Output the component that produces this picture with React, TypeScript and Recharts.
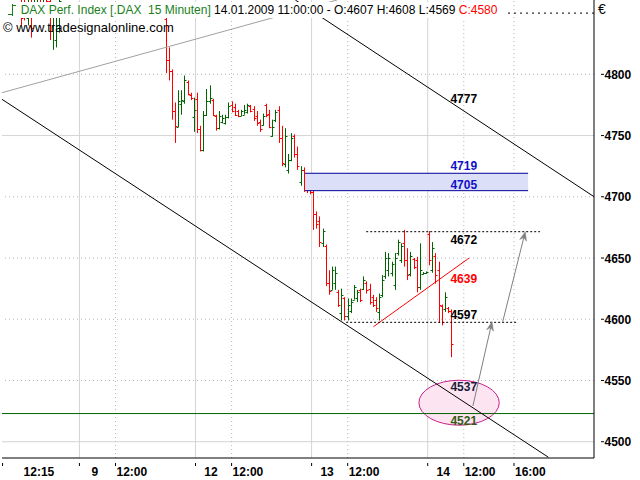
import React from 'react';
import {
  ComposedChart,
  Bar,
  XAxis,
  YAxis,
  ReferenceLine,
  ReferenceArea,
  ReferenceDot,
} from 'recharts';

// 15 minute bars, 37 slots per trading day on the time axis
const BARS_PER_DAY = 37;

// [open, high, low, close]
const jan08: number[][] = [
  [4866, 4870, 4840, 4846], [4858, 4866, 4844, 4850], [4846, 4868, 4840, 4862],
  [4862, 4870, 4830, 4838], [4852, 4872, 4850, 4866], [4866, 4878, 4856, 4870],
  [4870, 4880, 4858, 4862], [4862, 4874, 4853, 4868], [4868, 4876, 4855, 4860],
  [4860, 4866, 4828, 4835], [4835, 4858, 4820, 4852], [4828, 4856, 4822, 4850],
  [4840, 4866, 4834, 4860],
];
const jan09: number[][] = [
  [4845, 4850, 4801, 4812], [4812, 4822, 4795, 4803], [4803, 4804, 4763, 4770],
  [4770, 4777, 4744, 4758], [4757, 4787, 4757, 4778], [4776, 4787, 4767, 4779],
  [4778, 4799, 4776, 4795], [4794, 4795, 4783, 4784], [4783, 4785, 4779, 4781],
  [4765, 4781, 4753, 4771],
];
const jan12: number[][] = [
  [4780, 4785, 4752, 4755], [4755, 4758, 4737, 4738], [4738, 4770, 4737, 4767],
  [4767, 4788, 4766, 4778], [4778, 4791, 4776, 4781], [4779, 4780, 4766, 4767],
  [4766, 4767, 4754, 4756], [4756, 4770, 4755, 4766], [4761, 4767, 4760, 4764],
  [4760, 4767, 4759, 4765], [4765, 4777, 4764, 4774], [4775, 4778, 4769, 4770],
  [4773, 4776, 4766, 4767], [4770, 4771, 4765, 4766], [4766, 4771, 4766, 4770],
  [4767, 4775, 4767, 4771], [4769, 4776, 4768, 4775], [4774, 4775, 4769, 4770],
  [4772, 4774, 4762, 4764], [4766, 4770, 4758, 4760], [4761, 4763, 4753, 4755],
  [4759, 4768, 4758, 4766], [4775, 4776, 4765, 4767], [4768, 4771, 4756, 4757],
  [4750, 4763, 4749, 4757], [4763, 4771, 4761, 4769], [4771, 4774, 4744, 4748],
  [4748, 4758, 4725, 4728], [4727, 4756, 4724, 4750], [4722, 4735, 4719, 4730],
  [4730, 4752, 4729, 4748], [4750, 4751, 4732, 4735], [4735, 4741, 4722, 4725],
  [4712, 4725, 4709, 4722], [4722, 4724, 4704, 4708], [4708, 4712, 4703, 4706],
  [4706, 4710, 4702, 4704],
];
const jan13: number[][] = [
  [4704, 4705, 4673, 4686], [4686, 4688, 4674, 4678], [4680, 4684, 4659, 4663],
  [4662, 4674, 4659, 4672], [4660, 4661, 4627, 4630], [4630, 4640, 4620, 4623],
  [4624, 4643, 4624, 4640], [4630, 4643, 4624, 4638], [4622, 4624, 4610, 4612],
  [4605, 4625, 4599, 4620], [4617, 4618, 4599, 4603], [4603, 4617, 4599, 4612],
  [4607, 4617, 4605, 4614], [4616, 4628, 4616, 4626], [4617, 4624, 4614, 4622],
  [4624, 4625, 4614, 4616], [4625, 4635, 4624, 4632], [4630, 4631, 4621, 4624],
  [4625, 4629, 4612, 4614], [4618, 4620, 4610, 4612], [4616, 4618, 4606, 4609],
  [4606, 4621, 4599, 4618], [4620, 4636, 4618, 4632], [4635, 4655, 4633, 4650],
  [4640, 4654, 4635, 4650], [4638, 4647, 4635, 4645], [4628, 4654, 4624, 4650],
  [4654, 4665, 4652, 4663], [4648, 4662, 4646, 4660], [4662, 4673, 4643, 4648],
  [4648, 4658, 4632, 4636], [4637, 4655, 4635, 4652], [4649, 4650, 4641, 4643],
  [4648, 4651, 4622, 4626], [4626, 4662, 4624, 4640], [4637, 4638.5, 4636.5, 4638],
  [4637.5, 4639, 4637, 4638.5],
];
const jan14: number[][] = [
  [4670, 4672, 4644, 4648], [4640, 4663, 4638, 4658], [4652, 4654, 4629, 4636],
  [4640, 4647, 4597, 4612], [4611, 4612, 4595, 4598], [4608, 4622, 4606, 4618],
  [4609, 4610, 4605, 4607], [4607, 4608, 4569, 4580],
];

// day number on the axis, first bar slot inside that day
const sessions = [
  { day: 0, first: 18, bars: jan08 },
  { day: 1, first: 27, bars: jan09 },
  { day: 2, first: 0, bars: jan12 },
  { day: 3, first: 0, bars: jan13 },
  { day: 4, first: 0, bars: jan14 },
];

const xTickSlots = [12, 36.5, 48, 73.5, 85, 110.5, 122, 147.5, 159, 175];
const xTickTexts = ['12:15', '9', '12:00', '12', '12:00', '13', '12:00', '14', '12:00', '16:00'];
const daySlots = [36.5, 73.5, 110.5, 147.5];
const noonSlots = [48, 85, 122, 159, 175];
const yTicks = [4500, 4550, 4600, 4650, 4700, 4750, 4800];
const ySolid = [4500, 4750];
const yDotted = [4550, 4600, 4650, 4700, 4800];

// drawn levels: text, position (slot, price), colour
const levelTexts = ['4777', '4719', '4705', '4672', '4639', '4597', '4537', '4521'];
const levelPrices = [4780.6, 4725.9, 4710.4, 4665.5, 4632.9, 4603.5, 4544.7, 4517.0];
const levelColors = ['#000', '#1010c8', '#1010c8', '#000', '#ff0000', '#000', '#1c1c3c', '#355a14'];
const LEVEL_SLOT = 159;

const X_DOMAIN: [number, number] = [11.82, 200.5];
const Y_DOMAIN: [number, number] = [4486.7, 4860.7];

const RED = '#ff0000';
const GREEN = '#006400';
const FONT = '"Liberation Sans", Arial, sans-serif';

const bars = sessions.flatMap((s) =>
  s.bars.map((b, j) => ({
    slot: s.day * BARS_PER_DAY + s.first + j,
    open: b[0],
    high: b[1],
    low: b[2],
    close: b[3],
  }))
);

const OhlcShape = (props: any) => {
  const { x, y, width, height, payload } = props;
  if (x == null || y == null) return null;
  const top = Math.min(y, y + height);
  const bottom = Math.max(y, y + height);
  const cx = Math.round(x + width / 2) + 0.5;
  const span = payload.high - payload.low;
  const at = (v: number) => Math.round(span > 0 ? top + ((bottom - top) * (payload.high - v)) / span : top) + 0.5;
  const color = payload.close < payload.open ? RED : GREEN;
  return (
    <g stroke={color} strokeWidth={1}>
      <line x1={cx} x2={cx} y1={top} y2={bottom} />
      <line x1={cx - 2} x2={cx} y1={at(payload.open)} y2={at(payload.open)} />
      <line x1={cx} x2={cx + 2} y1={at(payload.close)} y2={at(payload.close)} />
    </g>
  );
};

const XTick = (props: any) => {
  const { x, y, index } = props;
  const text = xTickTexts[index] ?? '';
  const isDay = !text.includes(':');
  const tx = isDay ? x + 15.5 : index === 0 ? x + 21 : x + 1;
  return (
    <g>
      <line x1={x} x2={x} y1={y + 5} y2={y + 8} stroke="#000" />
      <text x={tx} y={y + 18} textAnchor={isDay ? 'middle' : 'start'} fontSize={12} fontWeight="bold" fontFamily={FONT} fill="#000">
        {text}
      </text>
    </g>
  );
};

const YTick = (props: any) => {
  const { x, y, payload } = props;
  return (
    <g>
      <line x1={x + 7} x2={x + 10} y1={y} y2={y} stroke="#000" />
      <text x={x + 10.5} y={y + 4.5} textAnchor="start" fontSize={12} fontWeight="bold" fontFamily={FONT} fill="#000">
        {payload.value}
      </text>
    </g>
  );
};

const Ellipse = (props: any) => {
  const { x, y, width, height } = props;
  return (
    <ellipse cx={x + width / 2} cy={y + height / 2} rx={Math.abs(width) / 2} ry={Math.abs(height) / 2} fill="#fce4f1" stroke="#c8208c" strokeWidth={1} />
  );
};

const ZoneBox = (props: any) => {
  const { x, y, width, height } = props;
  return (
    <g>
      <rect x={x} y={y} width={width} height={height} fill="#dcdff8" />
      <line x1={x} x2={x + width} y1={y} y2={y} stroke="#000099" />
      <line x1={x} x2={x + width} y1={y + height} y2={y + height} stroke="#000099" />
    </g>
  );
};

const Arrow = (props: any) => {
  const { x1, y1, x2, y2 } = props;
  const a = Math.atan2(y2 - y1, x2 - x1);
  const c = Math.cos(a);
  const s = Math.sin(a);
  const len = 9;
  const half = 3.5;
  const bx = x2 - len * c;
  const by = y2 - len * s;
  const nx = x2 - (len - 3) * c;
  const ny = y2 - (len - 3) * s;
  const pts = [
    [x2, y2],
    [bx - half * s, by + half * c],
    [nx, ny],
    [bx + half * s, by - half * c],
  ]
    .map((p) => p.join(','))
    .join(' ');
  return (
    <g>
      <line x1={x1} y1={y1} x2={nx} y2={ny} stroke="#808080" strokeWidth={1} />
      <polygon points={pts} fill="#808080" stroke="#808080" strokeWidth={0.5} />
    </g>
  );
};

const LevelText = (text: string, color: string) => (p: any) => (
  <text x={p.cx} y={p.cy + 4.5} textAnchor="middle" fontSize={12} fontWeight="bold" fontFamily={FONT} fill={color}>
    {text}
  </text>
);

export default function App() {
  return (
    <div style={{ position: 'absolute', left: 0, top: 0, width: 640, height: 480, background: '#fff', fontFamily: FONT }}>
      <ComposedChart width={640} height={480} data={bars} margin={{ top: 0, right: 0, bottom: 0, left: 2 }}>
        {ySolid.map((v) => (
          <ReferenceLine key={'hs' + v} y={v} stroke="#d4d4d4" zIndex={-100} />
        ))}
        {yDotted.map((v) => (
          <ReferenceLine key={'hd' + v} y={v} stroke="#b8b8b8" strokeDasharray="1 3" zIndex={-100} />
        ))}
        {daySlots.map((v) => (
          <ReferenceLine key={'vs' + v} x={v} stroke="#d4d4d4" zIndex={-100} />
        ))}
        {noonSlots.map((v) => (
          <ReferenceLine key={'vd' + v} x={v} stroke="#b8b8b8" strokeDasharray="1 3" zIndex={-100} />
        ))}
        <XAxis
          type="number"
          dataKey="slot"
          domain={X_DOMAIN}
          allowDataOverflow
          ticks={xTickSlots}
          interval={0}
          height={22}
          tickSize={0}
          tickMargin={0}
          tickLine={false}
          axisLine={{ stroke: '#000' }}
          tick={(p: any) => <XTick {...p} />}
        />
        <YAxis
          orientation="right"
          domain={Y_DOMAIN}
          allowDataOverflow
          ticks={yTicks}
          interval={0}
          width={46}
          tickSize={0}
          tickMargin={0}
          tickLine={false}
          axisLine={{ stroke: '#000' }}
          tick={(p: any) => <YTick {...p} />}
        />
        <YAxis yAxisId="frame" orientation="left" width={0} domain={Y_DOMAIN} allowDataOverflow tick={false} tickLine={false} axisLine={{ stroke: '#000' }} />

        <Bar
          dataKey={(d: any) => [d.low, d.high]}
          barSize={3}
          isAnimationActive={false}
          shape={(p: any) => <OhlcShape {...p} />}
        />

        <ReferenceArea x1={144.7} x2={170.3} y1={4513.5} y2={4550.2} ifOverflow="hidden" zIndex={350} shape={(p: any) => <Ellipse {...p} />} />
        <ReferenceArea x1={108.4} x2={179.5} y1={4705} y2={4719.2} ifOverflow="hidden" zIndex={350} shape={(p: any) => <ZoneBox {...p} />} />

        <ReferenceLine y={4850} stroke="#000" strokeDasharray="2 4" ifOverflow="hidden" zIndex={400} />
        <ReferenceLine y={4523} stroke="#006400" ifOverflow="hidden" zIndex={400} />
        <ReferenceLine segment={[{ x: 11.82, y: 4785 }, { x: 118.6, y: 4860.7 }]} stroke="#a0a0a0" ifOverflow="hidden" zIndex={400} />
        <ReferenceLine segment={[{ x: 11.82, y: 4779.6 }, { x: 185.97, y: 4487.3 }]} stroke="#000" ifOverflow="hidden" zIndex={400} />
        <ReferenceLine segment={[{ x: 105.3, y: 4860.7 }, { x: 200.5, y: 4700.1 }]} stroke="#000" ifOverflow="hidden" zIndex={400} />
        <ReferenceLine segment={[{ x: 130.2, y: 4593.9 }, { x: 160.7, y: 4650 }]} stroke={RED} ifOverflow="hidden" zIndex={400} />
        <ReferenceLine segment={[{ x: 127.9, y: 4671.5 }, { x: 183.3, y: 4671.5 }]} stroke="#000" strokeDasharray="2 2" ifOverflow="hidden" zIndex={400} />
        <ReferenceLine segment={[{ x: 121.5, y: 4597.5 }, { x: 176, y: 4597.5 }]} stroke="#000" strokeDasharray="2 2" ifOverflow="hidden" zIndex={400} />
        <ReferenceLine segment={[{ x: 161.9, y: 4529.2 }, { x: 168, y: 4598 }]} ifOverflow="hidden" zIndex={400} shape={(p: any) => <Arrow {...p} />} />
        <ReferenceLine segment={[{ x: 171.4, y: 4598 }, { x: 178.6, y: 4671.5 }]} ifOverflow="hidden" zIndex={400} shape={(p: any) => <Arrow {...p} />} />

        {levelTexts.map((t, i) => (
          <ReferenceDot key={t + i} x={LEVEL_SLOT} y={levelPrices[i]} r={0} zIndex={500} shape={LevelText(t, levelColors[i])} />
        ))}
      </ComposedChart>

      <div style={{ position: 'absolute', left: 4, top: 2, width: 502, height: 16, background: '#fff', fontSize: 12, lineHeight: '16px', whiteSpace: 'nowrap' }}>
        <svg width={14} height={16} style={{ position: 'absolute', left: 2, top: 0 }}>
          <g stroke="#1a7f1a" strokeWidth={1}>
            <line x1={6.5} x2={6.5} y1={2} y2={14} />
            <line x1={2} x2={6.5} y1={12.5} y2={12.5} />
            <line x1={6.5} x2={10} y1={3.5} y2={3.5} />
          </g>
        </svg>
        <span style={{ position: 'absolute', left: 16.7 }}>
          <span style={{ color: '#1a7f1a' }}>DAX Perf. Index [.DAX&nbsp;&nbsp;15 Minuten]</span>
          <span style={{ color: '#000' }}> 14.01.2009 11:00:00 - O:4607 H:4608 L:4569 </span>
          <span style={{ color: RED }}>C:4580</span>
        </span>
      </div>
      <div style={{ position: 'absolute', left: 3, top: 20, fontSize: 13, lineHeight: '16px', color: '#000', whiteSpace: 'nowrap' }}>
        © www.tradesignalonline.com
      </div>
      <div style={{ position: 'absolute', left: 598, top: 1, fontSize: 14, lineHeight: '16px', color: '#000' }}>€</div>
    </div>
  );
}
